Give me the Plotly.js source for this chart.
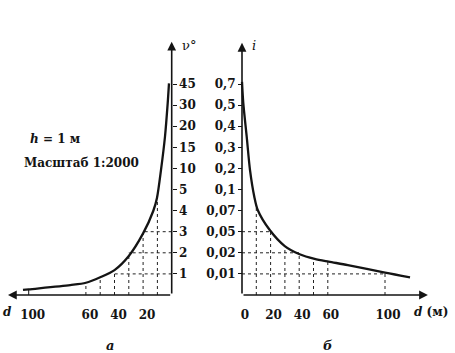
<!DOCTYPE html>
<html>
<head>
<meta charset="utf-8">
<script src="https://cdn.plot.ly/plotly-3.0.1.min.js"></script>
<style>html,body{margin:0;padding:0;background:#fff;}#chart{width:455px;height:353px;}</style>
</head>
<body>
<div id="chart"></div>
<script>
// ---- data ----
const levels = [1, 2, 3, 4, 5, 6, 7, 8, 9, 10];
const slopeLabels = ['1', '2', '3', '4', '5', '10', '15', '20', '30', '45'];
const gradeLabels = ['0,01', '0,02', '0,05', '0,07', '0,1', '0,2', '0,3', '0,4', '0,5', '0,7'];

const leftTickVals = [20, 40, 60, 100];
const rightTickVals = [0, 20, 40, 60, 100];

// curve a (slope in degrees), d in m, height in scale steps
const leftD   = [1.9, 2.8, 4.7, 7.5, 10.3, 12.9, 20, 30, 40, 50, 60, 71, 100, 104];
const leftPos = [10.03, 9.09, 7.5, 5.92, 4.6, 3.98, 2.92, 1.85, 1.18, 0.84, 0.58, 0.47, 0.27, 0.24];

// curve б (gradient)
const rightD   = [0, 0.9, 3.3, 5.6, 8.6, 11.0, 19.4, 29.9, 40.3, 50.8, 60.6, 74, 100, 117.5];
const rightPos = [10.1, 9.09, 7.5, 5.92, 4.66, 4.03, 3.08, 2.32, 1.93, 1.71, 1.58, 1.42, 1.06, 0.84];

const leftDropD  = [10, 20, 30, 40, 50, 60];
const rightDropD = [10, 20, 30, 40, 50, 60, 100];
const leftHLevels  = [1, 2, 3];
const leftHEnds    = [40, 30, 20];
const rightHLevels = [1, 2, 3];
const rightHEnds   = [100, 40, 20];

// ---- helpers ----
function interp(xs, ys, x) {
  for (let k = 0; k < xs.length - 1; k++) {
    if (x >= xs[k] && x <= xs[k + 1]) {
      const t = (x - xs[k]) / (xs[k + 1] - xs[k]);
      return ys[k] + t * (ys[k + 1] - ys[k]);
    }
  }
  return ys[ys.length - 1];
}
function gridTrace(dropD, cx, cy, hLevels, hEnds, xa) {
  const x = [], y = [];
  dropD.forEach(d => { x.push(d, d, null); y.push(0, interp(cx, cy, d), null); });
  hLevels.forEach((lv, k) => { x.push(0, hEnds[k], null); y.push(lv, lv, null); });
  return {x, y, xaxis: xa, yaxis: 'y', mode: 'lines', hoverinfo: 'skip',
          line: {color: '#222', width: 1, dash: 'dot'}, showlegend: false};
}
const bold = s => '<b>' + s + '</b>';

const INK = '#141414';
const numFont = {family: 'DejaVu Serif', size: 12, color: INK};

const traces = [
  gridTrace(leftDropD, leftD, leftPos, leftHLevels, leftHEnds, 'x'),
  gridTrace(rightDropD, rightD, rightPos, rightHLevels, rightHEnds, 'x2'),
  {x: [100, 100], y: [0, interp(leftD, leftPos, 100)], xaxis: 'x', yaxis: 'y', mode: 'lines',
   line: {color: INK, width: 1}, hoverinfo: 'skip', showlegend: false},
  {x: leftD, y: leftPos, xaxis: 'x', yaxis: 'y', mode: 'lines',
   line: {color: INK, width: 2.3, shape: 'spline', smoothing: 0.8}, showlegend: false},
  {x: rightD, y: rightPos, xaxis: 'x2', yaxis: 'y', mode: 'lines',
   line: {color: INK, width: 2.3, shape: 'spline', smoothing: 0.8}, showlegend: false},
  // same gradient curve bound to the second y axis (invisible) so that axis is drawn
  {x: rightD, y: rightPos, xaxis: 'x2', yaxis: 'y2', mode: 'lines',
   line: {color: 'rgba(0,0,0,0)', width: 0}, hoverinfo: 'skip', showlegend: false}
];

const W = 455, H = 353;
const yRange = [-2.749, 13.981];
function arrow(xref, x, y, ax, ay) {
  return {xref: xref, yref: 'y', axref: xref, ayref: 'y', x: x, y: y, ax: ax, ay: ay,
          text: '', showarrow: true, arrowhead: 2, arrowsize: 1.1, arrowwidth: 1.6, arrowcolor: INK};
}
function label(text, px, py, xanchor, extra) {
  return Object.assign({xref: 'paper', yref: 'paper', x: px / W, y: 1 - py / H,
          xanchor: xanchor, yanchor: 'middle', showarrow: false, text: text,
          font: {family: 'DejaVu Serif', size: 12, color: INK}}, extra || {});
}
const xTickStyle = {ticks: 'outside', ticklen: 9, tickcolor: 'rgba(0,0,0,0)', showgrid: false,
                    zeroline: false, showline: false, tickfont: numFont};
const yTickStyle = {ticks: 'outside', ticklen: 4, tickwidth: 1, tickcolor: INK, showgrid: false,
                    zeroline: false, showline: false, tickfont: numFont};

const layout = {
  width: W, height: H, margin: {l: 0, r: 0, t: 0, b: 0, pad: 0},
  paper_bgcolor: '#fff', plot_bgcolor: 'rgba(0,0,0,0)', showlegend: false,
  xaxis: Object.assign({domain: [0, 200 / W], range: [120.07, -19.79], anchor: 'free', position: (H - 295) / H,
          tickvals: leftTickVals, ticktext: leftTickVals.map(v => bold(v)), ticklabelshift: -4}, xTickStyle),
  xaxis2: Object.assign({domain: [200 / W, 1], range: [-29.37, 148.95], anchor: 'free', position: (H - 295) / H,
          tickvals: rightTickVals, ticktext: rightTickVals.map(v => bold(v)), ticklabelshift: 3}, xTickStyle),
  yaxis: Object.assign({range: yRange, domain: [0, 1], anchor: 'free', position: 171.7 / W, side: 'right',
          tickvals: levels, ticktext: slopeLabels.map(bold)}, yTickStyle),
  yaxis2: Object.assign({range: yRange, domain: [0, 1], anchor: 'free', overlaying: 'y', position: 242 / W, side: 'left',
          tickvals: levels, ticktext: gradeLabels.map(bold)}, yTickStyle),
  annotations: [
    arrow('x', 0, 12.0, 0, 0),
    arrow('x', 114.5, 0, 0, 0),
    arrow('x2', 0, 11.95, 0, 0),
    arrow('x2', 130, 0, 0, 0),
    label('ν°', 180, 46, 'left', {font: {family: 'DejaVu Serif', size: 13, color: INK}}),
    label('<i>i</i>', 250, 46, 'left', {font: {family: 'DejaVu Serif', size: 13, color: INK}}),
    label('<b><i>h</i> = 1 м</b>', 28, 139, 'left'),
    label('<b>Масштаб 1:2000</b>', 22, 163, 'left'),
    label('<b><i>d</i></b>', 7, 312, 'center'),
    label('<b><i>d</i> (м)</b>', 412, 312, 'left'),
    label('<b><i>а</i></b>', 110, 345, 'center', {font: {family: 'DejaVu Serif', size: 13, color: INK}}),
    label('<b><i>б</i></b>', 328, 345, 'center', {font: {family: 'DejaVu Serif', size: 13, color: INK}})
  ]
};

Plotly.newPlot('chart', traces, layout, {staticPlot: true, displayModeBar: false});
</script>
</body>
</html>
